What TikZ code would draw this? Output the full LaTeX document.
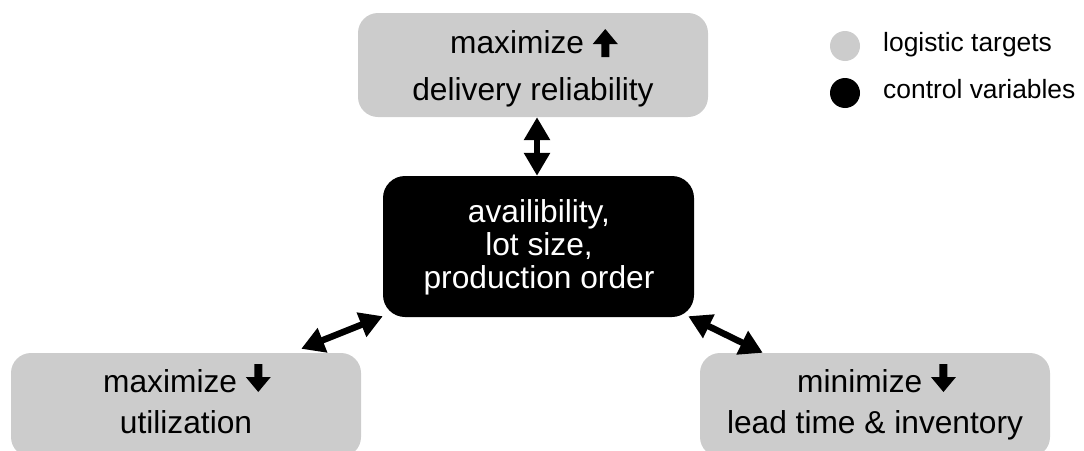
\documentclass[tikz,border=0pt]{standalone}
\usepackage{fontspec}
\setmainfont{Liberation Sans}
\usetikzlibrary{arrows.meta,calc}
\definecolor{targetgray}{RGB}{204,204,204}
\newcommand{\boxfont}{\fontsize{31.7}{38}\selectfont}
\newcommand{\keyfont}{\fontsize{26.4}{32}\selectfont}
\begin{document}
\begin{tikzpicture}[x=1pt,y=-1pt,
  target/.style={fill=targetgray, rounded corners=20pt, minimum width=350pt,
    minimum height=104pt, inner sep=0pt},
  control/.style={fill=black, rounded corners=22pt, minimum width=311pt,
    minimum height=141pt, inner sep=0pt},
  txt/.style={anchor=base, font=\boxfont, inner sep=0pt},
  txtw/.style={anchor=base west, font=\boxfont, inner sep=0pt},
  keytxt/.style={anchor=base west, font=\keyfont, inner sep=0pt},
  link/.style={line width=6.5pt,
    {Triangle[width=25pt,length=23pt]}-{Triangle[width=25pt,length=23pt]}},
  uparrow/.pic={\fill (-4,0) -- (-4,-13) -- (-12.5,-13) -- (0,-28) -- (12.5,-13)
    -- (4,-13) -- (4,0) -- cycle;},
  downarrow/.pic={\fill (-4,-28) -- (-4,-15) -- (-12.5,-15) -- (0,0) -- (12.5,-15)
    -- (4,-15) -- (4,-28) -- cycle;}
]
\useasboundingbox (0,0) rectangle (1084,450);

% boxes
\node[target]  (rel)  at (533,65)    {};
\node[control] (ctl)  at (538.5,246.5) {};
\node[target]  (util) at (186,405)   {};
\node[target]  (lead) at (875,405)   {};

% logistic target: delivery reliability
\node[txtw] (relA) at (450,53) {maximize};
\pic at ($(relA.base east)+(21,4)$) {uparrow};
\node[txt]  (relB) at (533,100) {delivery reliability};

% control variables
\node[txt, text=white] (ctlA) at (539,222) {availibility,};
\node[txt, text=white] (ctlB) at (539,255) {lot size,};
\node[txt, text=white] (ctlC) at (539,288) {production order};

% logistic target: utilization
\node[txtw] (utilA) at (103,392) {maximize};
\pic at ($(utilA.base east)+(21,0)$) {downarrow};
\node[txt]  (utilB) at (186,433) {utilization};

% logistic target: lead time and inventory
\node[txtw] (leadA) at (797,392) {minimize};
\pic at ($(leadA.base east)+(21,0)$) {downarrow};
\node[txt]  (leadB) at (875,433) {lead time \& inventory};

% interactions
\coordinate (relFoot) at ([xshift=4pt]rel.south);
\coordinate (ctlTop) at (relFoot |- ctl.north);
\draw[link] (relFoot) -- (ctlTop);
\draw[link] ([xshift=-60pt,yshift=4pt]util.north east) -- ([yshift=1pt]ctl.south west);
\draw[link] ([xshift=-6pt,yshift=1pt]ctl.south east) -- ([xshift=63pt]lead.north west);

% legend
\fill[targetgray] (845,46) circle[radius=15];
\fill[black] (845,93) circle[radius=15];
\node[keytxt] (keyA) at (883,51) {logistic targets};
\node[keytxt] (keyB) at (883,98) {control variables};
\end{tikzpicture}
\end{document}
